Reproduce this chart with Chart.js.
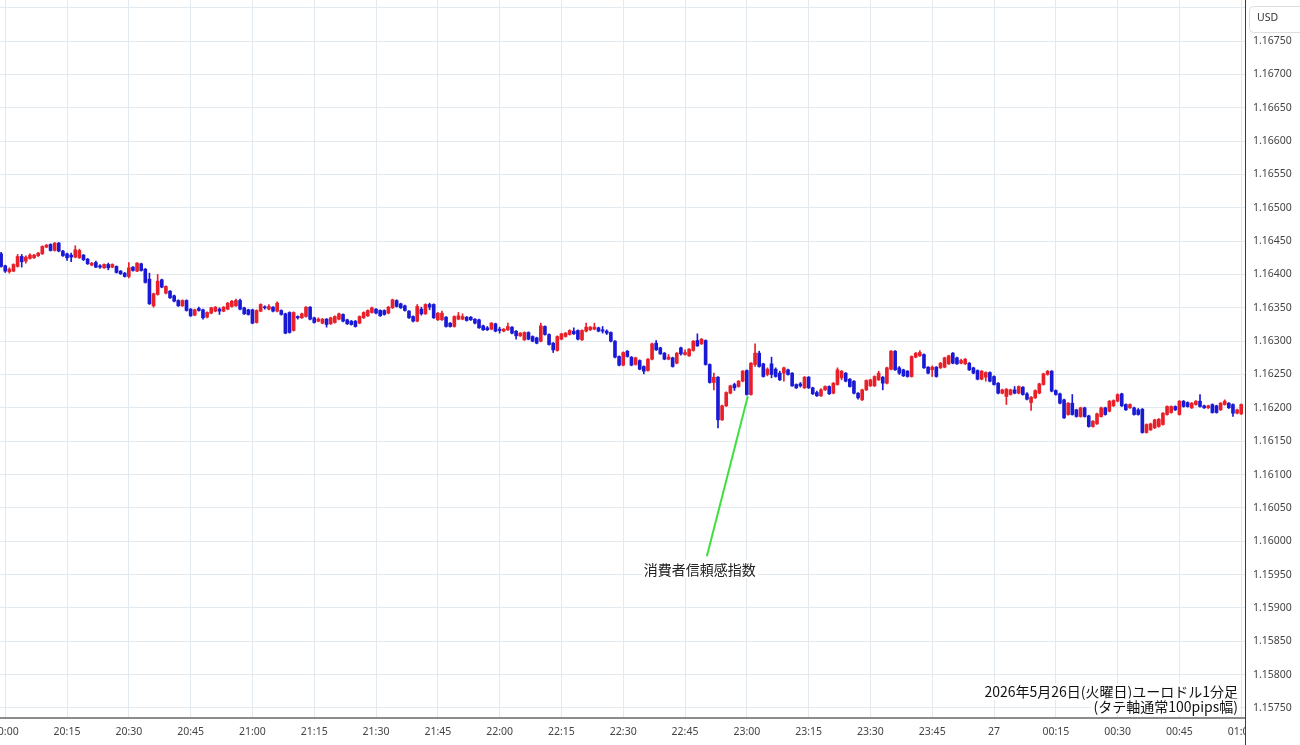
<!DOCTYPE html>
<html><head><meta charset="utf-8">
<script src="https://cdn.jsdelivr.net/npm/chart.js@4.4.1/dist/chart.umd.min.js"></script>
<style>html,body{margin:0;padding:0;background:#fff;overflow:hidden}#wrap{width:1300px;height:745px}</style>
</head><body><div id="wrap"><canvas id="c" width="1300" height="745"></canvas></div>
<script>
// 1-minute EUR/USD candles, first candle = 19:59, last = 01:00
const xTickIndex = [1,16,31,46,61,76,91,106,121,136,151,166,181,196,211,226,241,256,271,286,301];
const xTickLabels = ['20:00','20:15','20:30','20:45','21:00','21:15','21:30','21:45','22:00','22:15','22:30','22:45','23:00','23:15','23:30','23:45','27','00:15','00:30','00:45','01:00'];
const yTicks = [1.1575,1.158,1.1585,1.159,1.1595,1.16,1.1605,1.161,1.1615,1.162,1.1625,1.163,1.1635,1.164,1.1645,1.165,1.1655,1.166,1.1665,1.167,1.1675,1.168];
const currency = 'USD';
const titleLines = ['2026年5月26日(火曜日)ユーロドル1分足','(タテ軸通常100pips幅)'];
const eventLabel = '消費者信頼感指数';
const eventIndex = 181;
const eventLabelAt = [169.6, 1.15958];

const open = [
1.16431,1.16413,1.16404,1.16405,1.16412,1.16427,1.16420,1.16424,1.16425,1.16428,
1.16431,1.16441,1.16445,1.16436,1.16447,1.16435,1.16431,1.16429,1.16426,1.16425,
1.16429,1.16423,1.16414,1.16418,1.16413,1.16410,1.16415,1.16411,1.16412,1.16405,
1.16402,1.16397,1.16411,1.16405,1.16416,1.16408,1.16393,1.16353,1.16370,1.16392,
1.16372,1.16375,1.16368,1.16361,1.16353,1.16361,1.16348,1.16339,1.16349,1.16347,
1.16336,1.16342,1.16345,1.16348,1.16345,1.16348,1.16352,1.16353,1.16361,1.16350,
1.16347,1.16347,1.16328,1.16345,1.16351,1.16348,1.16351,1.16345,1.16346,1.16341,
1.16343,1.16316,1.16337,1.16335,1.16337,1.16351,1.16335,1.16330,1.16327,1.16333,
1.16326,1.16328,1.16333,1.16340,1.16332,1.16330,1.16330,1.16327,1.16335,1.16338,
1.16343,1.16348,1.16346,1.16346,1.16342,1.16350,1.16361,1.16356,1.16353,1.16345,
1.16337,1.16330,1.16348,1.16341,1.16355,1.16355,1.16332,1.16332,1.16336,1.16327,
1.16322,1.16333,1.16333,1.16336,1.16336,1.16333,1.16332,1.16323,1.16320,1.16318,
1.16326,1.16318,1.16315,1.16317,1.16321,1.16315,1.16308,1.16302,1.16313,1.16307,
1.16305,1.16300,1.16322,1.16310,1.16297,1.16286,1.16303,1.16307,1.16310,1.16315,
1.16316,1.16302,1.16315,1.16317,1.16318,1.16320,1.16317,1.16315,1.16313,1.16300,
1.16277,1.16264,1.16285,1.16276,1.16265,1.16271,1.16262,1.16256,1.16273,1.16297,
1.16290,1.16282,1.16273,1.16275,1.16267,1.16290,1.16280,1.16278,1.16286,1.16301,
1.16296,1.16301,1.16265,1.16238,1.16246,1.16182,1.16203,1.16222,1.16235,1.16232,
1.16240,1.16256,1.16220,1.16265,1.16282,1.16266,1.16250,1.16266,1.16258,1.16252,
1.16252,1.16257,1.16252,1.16235,1.16236,1.16230,1.16246,1.16230,1.16223,1.16218,
1.16227,1.16232,1.16222,1.16235,1.16245,1.16252,1.16243,1.16240,1.16222,1.16212,
1.16227,1.16233,1.16233,1.16242,1.16246,1.16237,1.16258,1.16285,1.16260,1.16257,
1.16255,1.16247,1.16276,1.16278,1.16280,1.16261,1.16257,1.16261,1.16260,1.16261,
1.16266,1.16282,1.16275,1.16267,1.16266,1.16267,1.16260,1.16256,1.16243,1.16246,
1.16253,1.16247,1.16237,1.16222,1.16217,1.16220,1.16227,1.16222,1.16231,1.16221,
1.16208,1.16215,1.16222,1.16235,1.16250,1.16255,1.16226,1.16221,1.16212,1.16190,
1.16207,1.16197,1.16187,1.16200,1.16188,1.16172,1.16176,1.16187,1.16200,1.16195,
1.16203,1.16210,1.16221,1.16205,1.16200,1.16200,1.16197,1.16198,1.16163,1.16167,
1.16170,1.16172,1.16175,1.16190,1.16193,1.16202,1.16190,1.16210,1.16208,1.16200,
1.16205,1.16210,1.16203,1.16200,1.16205,1.16203,1.16197,1.16205,1.16207,1.16205,
1.16192,1.16191];

const high = [
1.16433,1.16414,1.16410,1.16416,1.16430,1.16430,1.16428,1.16431,1.16430,1.16433,
1.16443,1.16445,1.16446,1.16448,1.16448,1.16436,1.16432,1.16432,1.16443,1.16438,
1.16430,1.16424,1.16418,1.16420,1.16415,1.16416,1.16417,1.16416,1.16413,1.16406,
1.16403,1.16418,1.16412,1.16418,1.16417,1.16409,1.16402,1.16372,1.16400,1.16393,
1.16383,1.16376,1.16369,1.16362,1.16362,1.16362,1.16349,1.16348,1.16351,1.16348,
1.16344,1.16351,1.16352,1.16350,1.16352,1.16358,1.16361,1.16363,1.16363,1.16351,
1.16348,1.16348,1.16347,1.16356,1.16353,1.16355,1.16352,1.16359,1.16347,1.16342,
1.16344,1.16344,1.16338,1.16342,1.16352,1.16352,1.16336,1.16335,1.16334,1.16334,
1.16336,1.16338,1.16342,1.16341,1.16333,1.16331,1.16331,1.16338,1.16344,1.16347,
1.16351,1.16349,1.16347,1.16347,1.16352,1.16363,1.16362,1.16357,1.16354,1.16346,
1.16338,1.16355,1.16351,1.16356,1.16357,1.16356,1.16343,1.16345,1.16337,1.16328,
1.16338,1.16343,1.16341,1.16337,1.16337,1.16334,1.16333,1.16324,1.16322,1.16328,
1.16327,1.16321,1.16319,1.16327,1.16322,1.16316,1.16313,1.16314,1.16314,1.16308,
1.16306,1.16327,1.16323,1.16311,1.16298,1.16308,1.16312,1.16313,1.16317,1.16320,
1.16317,1.16317,1.16327,1.16322,1.16327,1.16321,1.16322,1.16317,1.16314,1.16301,
1.16278,1.16284,1.16286,1.16277,1.16276,1.16272,1.16263,1.16274,1.16297,1.16301,
1.16291,1.16283,1.16280,1.16276,1.16283,1.16291,1.16287,1.16289,1.16301,1.16311,
1.16304,1.16302,1.16266,1.16252,1.16247,1.16204,1.16224,1.16234,1.16237,1.16241,
1.16256,1.16257,1.16268,1.16296,1.16285,1.16267,1.16260,1.16276,1.16260,1.16255,
1.16261,1.16258,1.16253,1.16236,1.16238,1.16247,1.16247,1.16231,1.16225,1.16229,
1.16233,1.16233,1.16238,1.16260,1.16256,1.16253,1.16244,1.16241,1.16223,1.16228,
1.16242,1.16243,1.16248,1.16255,1.16247,1.16261,1.16286,1.16286,1.16262,1.16258,
1.16256,1.16278,1.16283,1.16286,1.16281,1.16262,1.16263,1.16262,1.16268,1.16276,
1.16279,1.16283,1.16276,1.16273,1.16274,1.16268,1.16261,1.16257,1.16256,1.16254,
1.16254,1.16248,1.16238,1.16228,1.16229,1.16228,1.16232,1.16233,1.16232,1.16223,
1.16217,1.16227,1.16237,1.16252,1.16256,1.16256,1.16227,1.16222,1.16213,1.16208,
1.16220,1.16198,1.16201,1.16201,1.16189,1.16181,1.16192,1.16201,1.16201,1.16211,
1.16212,1.16221,1.16222,1.16206,1.16206,1.16201,1.16199,1.16199,1.16176,1.16177,
1.16183,1.16184,1.16193,1.16203,1.16203,1.16203,1.16211,1.16211,1.16209,1.16208,
1.16211,1.16220,1.16204,1.16204,1.16206,1.16204,1.16208,1.16212,1.16208,1.16206,
1.16198,1.16206];

const low = [
1.16411,1.16403,1.16402,1.16404,1.16411,1.16411,1.16417,1.16423,1.16424,1.16427,
1.16430,1.16440,1.16435,1.16435,1.16434,1.16427,1.16421,1.16419,1.16425,1.16424,
1.16421,1.16415,1.16413,1.16410,1.16409,1.16409,1.16407,1.16410,1.16402,1.16400,
1.16396,1.16395,1.16405,1.16404,1.16405,1.16387,1.16355,1.16351,1.16369,1.16380,
1.16371,1.16364,1.16359,1.16352,1.16352,1.16345,1.16337,1.16338,1.16345,1.16333,
1.16335,1.16341,1.16344,1.16340,1.16344,1.16347,1.16351,1.16352,1.16347,1.16340,
1.16339,1.16326,1.16327,1.16344,1.16348,1.16347,1.16344,1.16344,1.16339,1.16311,
1.16312,1.16315,1.16333,1.16334,1.16336,1.16332,1.16327,1.16329,1.16326,1.16321,
1.16325,1.16327,1.16332,1.16329,1.16325,1.16324,1.16321,1.16326,1.16334,1.16337,
1.16342,1.16341,1.16337,1.16339,1.16341,1.16349,1.16351,1.16349,1.16345,1.16334,
1.16329,1.16329,1.16339,1.16340,1.16347,1.16334,1.16331,1.16331,1.16321,1.16321,
1.16321,1.16332,1.16332,1.16330,1.16331,1.16326,1.16319,1.16316,1.16316,1.16317,
1.16314,1.16312,1.16314,1.16316,1.16311,1.16303,1.16307,1.16301,1.16302,1.16299,
1.16296,1.16299,1.16309,1.16294,1.16283,1.16285,1.16302,1.16306,1.16309,1.16310,
1.16302,1.16301,1.16314,1.16316,1.16317,1.16314,1.16312,1.16310,1.16299,1.16275,
1.16263,1.16263,1.16276,1.16263,1.16264,1.16257,1.16251,1.16255,1.16272,1.16286,
1.16280,1.16272,1.16272,1.16261,1.16266,1.16279,1.16279,1.16277,1.16285,1.16292,
1.16295,1.16264,1.16237,1.16227,1.16170,1.16181,1.16202,1.16221,1.16226,1.16231,
1.16239,1.16219,1.16219,1.16262,1.16261,1.16246,1.16248,1.16245,1.16246,1.16241,
1.16240,1.16249,1.16232,1.16229,1.16231,1.16229,1.16229,1.16220,1.16217,1.16217,
1.16226,1.16220,1.16221,1.16234,1.16242,1.16239,1.16231,1.16221,1.16213,1.16211,
1.16226,1.16232,1.16232,1.16241,1.16227,1.16236,1.16257,1.16256,1.16250,1.16247,
1.16246,1.16246,1.16275,1.16277,1.16259,1.16251,1.16247,1.16246,1.16259,1.16260,
1.16265,1.16266,1.16265,1.16266,1.16265,1.16256,1.16251,1.16242,1.16242,1.16240,
1.16239,1.16234,1.16221,1.16221,1.16205,1.16219,1.16221,1.16221,1.16219,1.16212,
1.16196,1.16214,1.16221,1.16234,1.16249,1.16224,1.16219,1.16206,1.16184,1.16189,
1.16189,1.16186,1.16186,1.16186,1.16171,1.16171,1.16175,1.16186,1.16189,1.16194,
1.16202,1.16209,1.16202,1.16196,1.16199,1.16189,1.16189,1.16162,1.16162,1.16166,
1.16169,1.16171,1.16174,1.16189,1.16192,1.16196,1.16189,1.16201,1.16201,1.16199,
1.16204,1.16201,1.16199,1.16199,1.16192,1.16192,1.16196,1.16204,1.16199,1.16187,
1.16191,1.16190];

const close = [
1.16412,1.16405,1.16408,1.16415,1.16427,1.16419,1.16426,1.16429,1.16429,1.16432,
1.16442,1.16444,1.16436,1.16447,1.16435,1.16428,1.16425,1.16426,1.16437,1.16436,
1.16422,1.16416,1.16417,1.16411,1.16411,1.16415,1.16410,1.16415,1.16403,1.16401,
1.16397,1.16410,1.16406,1.16417,1.16406,1.16388,1.16356,1.16371,1.16390,1.16381,
1.16382,1.16365,1.16360,1.16353,1.16361,1.16346,1.16338,1.16347,1.16346,1.16335,
1.16343,1.16350,1.16351,1.16345,1.16351,1.16357,1.16360,1.16361,1.16348,1.16341,
1.16340,1.16327,1.16346,1.16355,1.16350,1.16352,1.16345,1.16357,1.16340,1.16312,
1.16313,1.16343,1.16335,1.16341,1.16351,1.16333,1.16328,1.16333,1.16333,1.16325,
1.16335,1.16337,1.16341,1.16330,1.16326,1.16325,1.16322,1.16337,1.16343,1.16346,
1.16350,1.16342,1.16338,1.16340,1.16351,1.16362,1.16352,1.16350,1.16346,1.16335,
1.16330,1.16352,1.16341,1.16355,1.16351,1.16335,1.16342,1.16342,1.16322,1.16322,
1.16337,1.16338,1.16337,1.16331,1.16332,1.16327,1.16320,1.16317,1.16317,1.16327,
1.16315,1.16316,1.16318,1.16322,1.16312,1.16308,1.16312,1.16313,1.16303,1.16300,
1.16297,1.16323,1.16310,1.16295,1.16287,1.16307,1.16311,1.16312,1.16316,1.16311,
1.16303,1.16316,1.16321,1.16321,1.16321,1.16315,1.16315,1.16312,1.16300,1.16276,
1.16264,1.16283,1.16277,1.16264,1.16275,1.16258,1.16255,1.16273,1.16296,1.16287,
1.16281,1.16273,1.16276,1.16262,1.16282,1.16281,1.16283,1.16288,1.16300,1.16293,
1.16303,1.16265,1.16238,1.16246,1.16182,1.16203,1.16223,1.16233,1.16230,1.16240,
1.16255,1.16220,1.16267,1.16282,1.16262,1.16247,1.16258,1.16250,1.16247,1.16242,
1.16260,1.16250,1.16233,1.16230,1.16233,1.16246,1.16230,1.16221,1.16218,1.16227,
1.16232,1.16221,1.16237,1.16257,1.16255,1.16240,1.16232,1.16222,1.16215,1.16227,
1.16241,1.16242,1.16247,1.16252,1.16237,1.16260,1.16285,1.16257,1.16252,1.16248,
1.16247,1.16277,1.16282,1.16283,1.16260,1.16252,1.16261,1.16247,1.16267,1.16275,
1.16278,1.16267,1.16266,1.16271,1.16273,1.16257,1.16252,1.16243,1.16255,1.16253,
1.16240,1.16235,1.16222,1.16227,1.16228,1.16227,1.16222,1.16232,1.16220,1.16213,
1.16216,1.16226,1.16236,1.16251,1.16255,1.16225,1.16220,1.16207,1.16185,1.16207,
1.16190,1.16187,1.16200,1.16187,1.16172,1.16180,1.16191,1.16200,1.16190,1.16210,
1.16211,1.16220,1.16203,1.16197,1.16205,1.16190,1.16190,1.16163,1.16175,1.16176,
1.16182,1.16183,1.16192,1.16202,1.16202,1.16197,1.16210,1.16202,1.16202,1.16207,
1.16210,1.16202,1.16200,1.16203,1.16193,1.16193,1.16207,1.16210,1.16200,1.16192,
1.16197,1.16205];

const UP = '#e8202a', DOWN = '#1a1ad6', GRID = '#e2e9ef';
const FONT = '"Noto Sans", "DejaVu Sans", sans-serif';
const CJK = '"Noto Sans CJK JP", "Noto Sans", sans-serif';

const idx = open.map((_, i) => i);
const colors = idx.map(i => close[i] >= open[i] ? UP : DOWN);
const bodies = idx.map(i => ({x: i, y: [Math.min(open[i], close[i]), Math.max(open[i], close[i])]}));
const wicks = idx.map(i => ({x: i, y: [low[i], high[i]]}));

const overlay = {
  id: 'overlay',
  afterDraw(chart) {
    const {ctx} = chart;
    const xs = chart.scales.x, ys = chart.scales.y;
    const R = xs.right;
    ctx.save();
    // hide x label overflow into price axis column
    ctx.fillStyle = '#fff';
    ctx.fillRect(R + 1, xs.top + 1, chart.width - R, chart.height - xs.top);
    // price axis line
    ctx.strokeStyle = '#3c3c3c'; ctx.lineWidth = 1;
    ctx.beginPath(); ctx.moveTo(R + 0.5, 0); ctx.lineTo(R + 0.5, chart.height); ctx.stroke();
    // currency box
    ctx.strokeStyle = '#dedede';
    ctx.beginPath(); ctx.roundRect(R + 4.5, 6.5, 60, 26, 4); ctx.stroke();
    ctx.fillStyle = '#333'; ctx.font = '10.5px ' + FONT; ctx.textBaseline = 'middle'; ctx.textAlign = 'left';
    ctx.fillText(currency, R + 12, 18);
    // event annotation
    const ex = xs.getPixelForValue(eventIndex), ey = ys.getPixelForValue(low[eventIndex]);
    const tx = xs.getPixelForValue(eventLabelAt[0]), ty = ys.getPixelForValue(eventLabelAt[1]);
    ctx.strokeStyle = '#3ee03e'; ctx.lineWidth = 2;
    ctx.beginPath(); ctx.moveTo(tx + 7, ty - 13); ctx.lineTo(ex + 1, ey + 1); ctx.stroke();
    ctx.font = '14px ' + CJK; ctx.textAlign = 'center';
    const w = ctx.measureText(eventLabel).width;
    ctx.fillStyle = '#fff'; ctx.fillRect(tx - w / 2 - 2, ty - 9, w + 4, 18);
    ctx.fillStyle = '#222'; ctx.fillText(eventLabel, tx, ty);
    // title
    ctx.textAlign = 'right'; ctx.font = '14px ' + CJK;
    const tr = R - 7;
    titleLines.forEach((t, k) => {
      const yy = 692 + k * 14.5;
      const tw = ctx.measureText(t).width;
      ctx.fillStyle = '#fff'; ctx.fillRect(tr - tw - 2, yy - 8, tw + 4, 16);
      ctx.fillStyle = '#111'; ctx.fillText(t, tr, yy);
    });
    ctx.restore();
  }
};

new Chart(document.getElementById('c'), {
  type: 'bar',
  data: {datasets: [
    {data: bodies, backgroundColor: colors, barThickness: 3, grouped: false, minBarLength: 1, borderWidth: 0},
    {data: wicks, backgroundColor: colors, barThickness: 1, grouped: false, minBarLength: 1, borderWidth: 0}
  ]},
  options: {
    responsive: false, animation: false, events: [],
    layout: {padding: 0},
    plugins: {legend: {display: false}, tooltip: {enabled: false}},
    scales: {
      x: {
        type: 'linear', min: -0.27, max: 301.92, offset: false,
        grid: {color: GRID, drawTicks: false, offset: false},
        border: {color: '#8c8c8c', width: 2},
        ticks: {autoSkip: false, maxRotation: 0, padding: 8, color: '#444', font: {family: FONT, size: 10.5},
          callback: v => { const k = xTickIndex.indexOf(v); return k >= 0 ? xTickLabels[k] : ''; }},
        afterBuildTicks: s => { s.ticks = xTickIndex.map(v => ({value: v})); },
        afterFit: s => { s.height = 27; s.paddingLeft = 0; s.paddingRight = 0; }
      },
      y: {
        position: 'right', min: 1.15735, max: 1.168115,
        grid: {color: GRID, drawTicks: false},
        border: {display: false},
        ticks: {padding: 8, color: '#444', font: {family: FONT, size: 10.5},
          callback: v => Math.abs(v - 1.168) < 1e-9 ? '' : v.toFixed(5)},
        afterBuildTicks: s => { s.ticks = yTicks.map(v => ({value: v})); },
        afterFit: s => { s.width = 55; s.paddingTop = 0; s.paddingBottom = 0; }
      }
    }
  },
  plugins: [overlay]
});
</script>
</body></html>
